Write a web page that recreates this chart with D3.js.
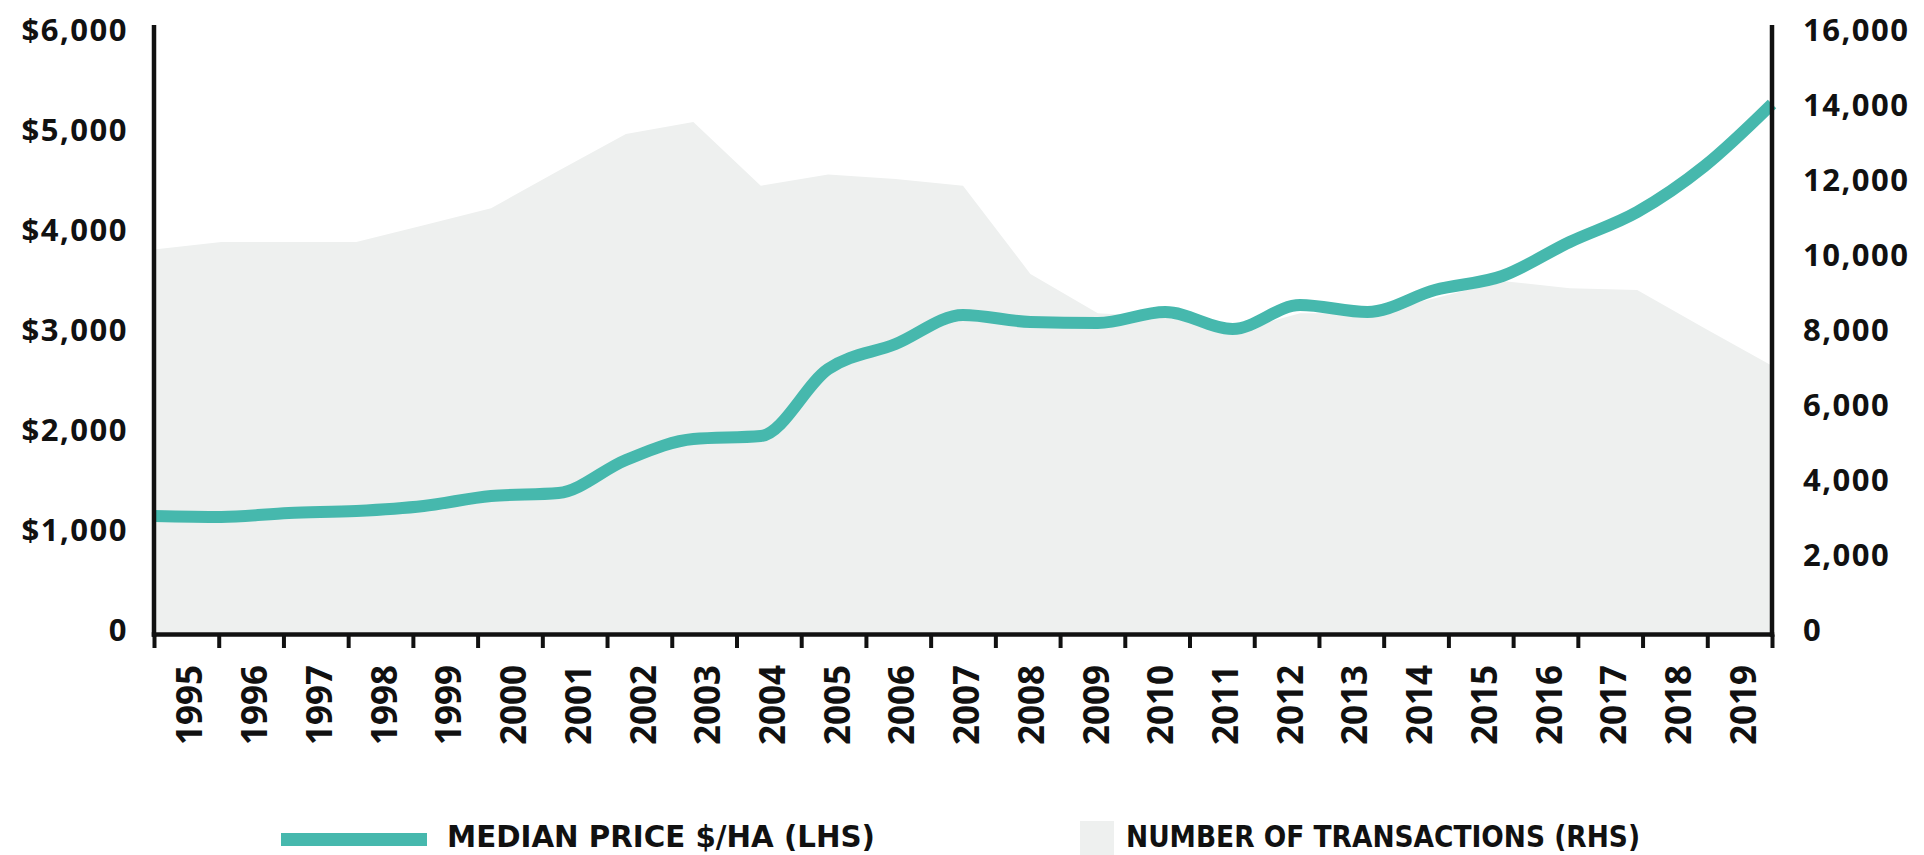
<!DOCTYPE html>
<html>
<head>
<meta charset="utf-8">
<script src="https://cdn.jsdelivr.net/npm/d3@7"></script>
<style>
  body{margin:0;background:#fff}
  svg{display:block}
</style>
</head>
<body>
<div id="chart"></div>
<script>
// values
const years = [1995,1996,1997,1998,1999,2000,2001,2002,2003,2004,2005,2006,2007,
               2008,2009,2010,2011,2012,2013,2014,2015,2016,2017,2018,2019];
const medianPrice = [1160,1150,1190,1210,1260,1360,1390,1720,1930,1960,2630,2880,3170,
                     3100,3090,3200,3030,3270,3200,3420,3560,3900,4200,4660,5280];
const transactions = [10200,10400,10400,10400,10850,11300,12300,13280,13600,11900,12200,12080,11900,
                      9550,8500,8400,8000,8500,8500,8900,9360,9170,9120,8100,7100];
const priceTicks = [0,1000,2000,3000,4000,5000,6000];
const countTicks = [0,2000,4000,6000,8000,10000,12000,14000,16000];
const legendLabels = ["MEDIAN PRICE $/HA (LHS)","NUMBER OF TRANSACTIONS (RHS)"];

(function(){
  const W=1924,H=855,L=154,R=1772,T=32,B=632,AXIS_Y=634.5;
  const TEAL='#46b8ad',GREY='#eef0ef',INK='#111';
  const TICK_FONT="'Open Sans', 'DejaVu Sans', sans-serif";
  const LEG_FONT="'DejaVu Sans Condensed', 'Liberation Sans Narrow', 'Open Sans', sans-serif";

  const svg=d3.select('#chart').append('svg').attr('width',W).attr('height',H);

  const xBand=d3.scaleBand().domain(years).range([L,R]);
  const xPt=d3.scalePoint().domain(years).range([L,R]);
  const xEdge=d3.scaleLinear().domain([0,years.length]).range([L,R]);
  const yL=d3.scaleLinear().domain([0,6000]).range([B,T]);
  const yR=d3.scaleLinear().domain([0,16000]).range([B,T]);

  // transactions, grey area on the right axis
  svg.append('path').datum(years)
    .attr('fill',GREY)
    .attr('d',d3.area().x(d=>xPt(d)).y0(yR(0)).y1((d,i)=>yR(transactions[i])));

  // median price, smooth teal line on the left axis
  svg.append('path').datum(years)
    .attr('fill','none').attr('stroke',TEAL).attr('stroke-width',12)
    .attr('d',d3.line().x(d=>xPt(d)).y((d,i)=>yL(medianPrice[i]))
      .curve(d3.curveMonotoneX));

  // left axis labels
  const fmtL=d=>d===0?'0':'$'+d3.format(',')(d);
  const gL=svg.append('g').attr('transform',`translate(${L},0)`)
    .call(d3.axisLeft(yL).tickValues(priceTicks).tickFormat(fmtL).tickSize(0).tickPadding(26));
  // right axis labels
  const gR=svg.append('g').attr('transform',`translate(${R},0)`)
    .call(d3.axisRight(yR).tickValues(countTicks).tickFormat(d3.format(',')).tickSize(0).tickPadding(31));
  [gL,gR].forEach(g=>{
    g.select('.domain').remove();
    g.selectAll('text').attr('font-family',TICK_FONT).attr('font-weight',700)
      .attr('font-size',31).attr('letter-spacing','1.5px').attr('fill',INK).attr('dy','0.28em');
  });

  // bottom ticks at the year boundaries
  const gTicks=svg.append('g').attr('transform',`translate(0,${AXIS_Y})`)
    .call(d3.axisBottom(xEdge).tickValues(d3.range(years.length+1)).tickFormat('').tickSize(13.5));
  gTicks.select('.domain').remove();
  gTicks.selectAll('line').attr('stroke',INK).attr('stroke-width',4);

  // year labels, rotated
  const gX=svg.append('g').attr('transform',`translate(0,${AXIS_Y})`)
    .call(d3.axisBottom(xBand).tickSize(0));
  gX.select('.domain').remove();
  gX.selectAll('text')
    .attr('font-family',TICK_FONT).attr('font-weight',700).attr('font-size',35).attr('fill',INK)
    .attr('transform','rotate(-90)').attr('text-anchor','end')
    .attr('x',-30.5).attr('y',3.5).attr('dy','0.36em');

  // axis lines
  svg.append('line').attr('x1',L).attr('x2',L).attr('y1',25).attr('y2',AXIS_Y+2.25)
    .attr('stroke',INK).attr('stroke-width',4.5);
  svg.append('line').attr('x1',R).attr('x2',R).attr('y1',25).attr('y2',AXIS_Y+2.25)
    .attr('stroke',INK).attr('stroke-width',4.5);
  svg.append('line').attr('x1',L-2.25).attr('x2',R+2.25).attr('y1',AXIS_Y).attr('y2',AXIS_Y)
    .attr('stroke',INK).attr('stroke-width',4.5);

  // legend
  const leg=svg.append('g');
  leg.append('rect').attr('x',281).attr('y',833).attr('width',146).attr('height',13).attr('fill',TEAL);
  leg.append('rect').attr('x',1080).attr('y',821).attr('width',34).attr('height',34).attr('fill',GREY);
  leg.selectAll('text.leg').data(legendLabels).enter().append('text').attr('class','leg')
    .attr('x',(d,i)=>i===0?447:1126).attr('y',847)
    .attr('textLength',(d,i)=>i===0?428:514).attr('lengthAdjust','spacingAndGlyphs')
    .attr('font-family',LEG_FONT).attr('font-weight',700).attr('font-size',30).attr('fill',INK)
    .text(d=>d);
})();
</script>
</body>
</html>
